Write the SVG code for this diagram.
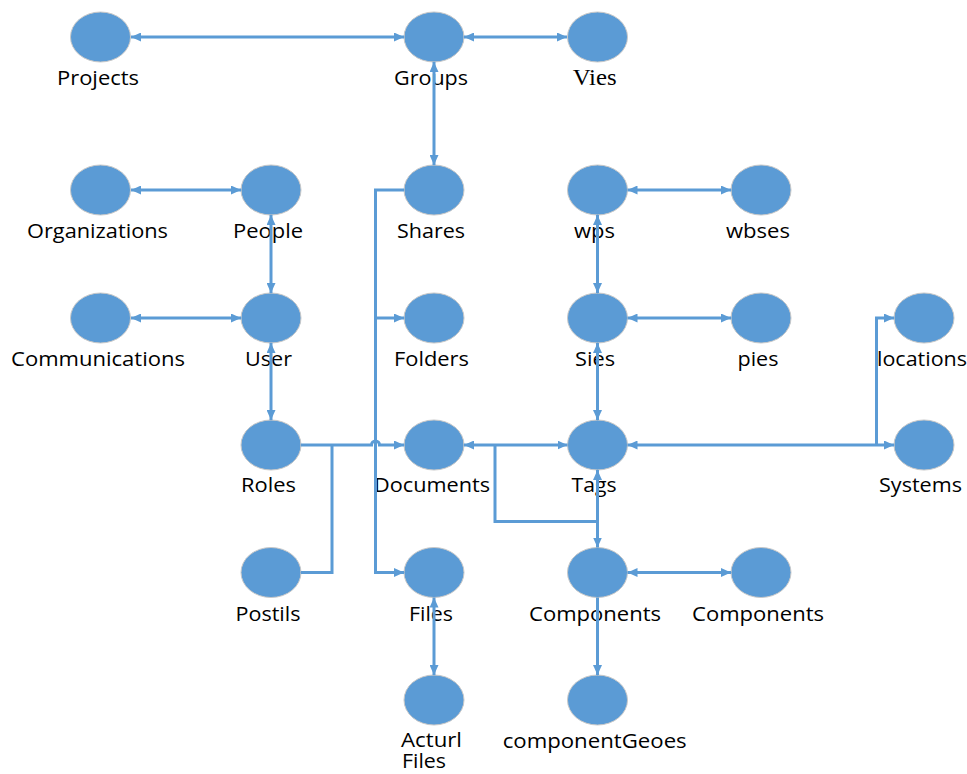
<svg xmlns="http://www.w3.org/2000/svg" width="967" height="774" viewBox="0 0 967 774">
<style>
.n{fill:#5B9BD5;stroke:#C8C8C8;stroke-width:1}
.t{font-family:"Open Sans","Noto Sans","Liberation Sans",sans-serif;font-size:19.5px;fill:#000;text-anchor:middle}
.s{font-family:"Liberation Serif",serif;font-size:22.5px;fill:#000;text-anchor:middle}
.c{fill:none;stroke:#5B9BD5;stroke-width:3}
</style>
<defs>
<marker id="a" markerUnits="userSpaceOnUse" markerWidth="11" markerHeight="9" refX="10" refY="4.5" orient="auto-start-reverse"><path d="M0,0 L10,4.5 L0,9 z" fill="#5B9BD5"/></marker>
</defs>
<rect width="967" height="774" fill="#fff"/>
<g id="nodes">
<g id="projects"><ellipse class="n" cx="100.5" cy="37" rx="30" ry="25"/><text class="t" x="98" y="85" textLength="82" lengthAdjust="spacingAndGlyphs">Projects</text></g>
<g id="groups"><ellipse class="n" cx="434" cy="37" rx="30" ry="25"/><text class="t" x="431" y="85" textLength="74" lengthAdjust="spacingAndGlyphs">Groups</text></g>
<g id="vies"><ellipse class="n" cx="597.5" cy="37" rx="30" ry="25"/><text class="s" x="594.7" y="85" textLength="44" lengthAdjust="spacingAndGlyphs">Vies</text></g>
<g id="organizations"><ellipse class="n" cx="100.5" cy="190" rx="30" ry="25"/><text class="t" x="97.5" y="238" textLength="141" lengthAdjust="spacingAndGlyphs">Organizations</text></g>
<g id="people"><ellipse class="n" cx="271" cy="190" rx="30" ry="25"/><text class="t" x="268" y="238" textLength="70" lengthAdjust="spacingAndGlyphs">People</text></g>
<g id="shares"><ellipse class="n" cx="434" cy="190" rx="30" ry="25"/><text class="t" x="431" y="238" textLength="68" lengthAdjust="spacingAndGlyphs">Shares</text></g>
<g id="wps"><ellipse class="n" cx="597.5" cy="190" rx="30" ry="25"/><text class="t" x="594.5" y="238" textLength="41" lengthAdjust="spacingAndGlyphs">wps</text></g>
<g id="wbses"><ellipse class="n" cx="761" cy="190" rx="30" ry="25"/><text class="t" x="758" y="238" textLength="64" lengthAdjust="spacingAndGlyphs">wbses</text></g>
<g id="communications"><ellipse class="n" cx="100.5" cy="318" rx="30" ry="25"/><text class="t" x="98" y="366" textLength="174" lengthAdjust="spacingAndGlyphs">Communications</text></g>
<g id="user"><ellipse class="n" cx="271" cy="318" rx="30" ry="25"/><text class="t" x="268.5" y="366" textLength="47" lengthAdjust="spacingAndGlyphs">User</text></g>
<g id="folders"><ellipse class="n" cx="434" cy="318" rx="30" ry="25"/><text class="t" x="431.5" y="366" textLength="75" lengthAdjust="spacingAndGlyphs">Folders</text></g>
<g id="sies"><ellipse class="n" cx="597.5" cy="318" rx="30" ry="25"/><text class="t" x="595" y="366" textLength="40" lengthAdjust="spacingAndGlyphs">Sies</text></g>
<g id="pies"><ellipse class="n" cx="761" cy="318" rx="30" ry="25"/><text class="t" x="758" y="366" textLength="41" lengthAdjust="spacingAndGlyphs">pies</text></g>
<g id="locations"><ellipse class="n" cx="924" cy="318" rx="30" ry="25"/><text class="t" x="922" y="366" textLength="90" lengthAdjust="spacingAndGlyphs">locations</text></g>
<g id="roles"><ellipse class="n" cx="271" cy="445" rx="30" ry="25"/><text class="t" x="268.5" y="492" textLength="55" lengthAdjust="spacingAndGlyphs">Roles</text></g>
<g id="documents"><ellipse class="n" cx="434" cy="445" rx="30" ry="25"/><text class="t" x="432" y="492" textLength="116" lengthAdjust="spacingAndGlyphs">Documents</text></g>
<g id="tags"><ellipse class="n" cx="597.5" cy="445" rx="30" ry="25"/><text class="t" x="594" y="492" textLength="45" lengthAdjust="spacingAndGlyphs">Tags</text></g>
<g id="systems"><ellipse class="n" cx="924" cy="445" rx="30" ry="25"/><text class="t" x="920.5" y="492" textLength="83" lengthAdjust="spacingAndGlyphs">Systems</text></g>
<g id="postils"><ellipse class="n" cx="271" cy="572.5" rx="30" ry="25"/><text class="t" x="268" y="620.5" textLength="65" lengthAdjust="spacingAndGlyphs">Postils</text></g>
<g id="files"><ellipse class="n" cx="434" cy="572.5" rx="30" ry="25"/><text class="t" x="431" y="620.5" textLength="44" lengthAdjust="spacingAndGlyphs">Files</text></g>
<g id="components1"><ellipse class="n" cx="597.5" cy="572.5" rx="30" ry="25"/><text class="t" x="595" y="620.5" textLength="132" lengthAdjust="spacingAndGlyphs">Components</text></g>
<g id="components2"><ellipse class="n" cx="761" cy="572.5" rx="30" ry="25"/><text class="t" x="758" y="620.5" textLength="132" lengthAdjust="spacingAndGlyphs">Components</text></g>
<g id="acturlfiles"><ellipse class="n" cx="434" cy="700" rx="30" ry="25"/><text class="t" style="text-anchor:start"><tspan x="401" y="747" textLength="61" lengthAdjust="spacingAndGlyphs">Acturl</tspan><tspan x="402" y="768" textLength="44" lengthAdjust="spacingAndGlyphs">Files</tspan></text></g>
<g id="componentgeoes"><ellipse class="n" cx="597.5" cy="700" rx="30" ry="25"/><text class="t" x="594.7" y="748" textLength="184" lengthAdjust="spacingAndGlyphs">componentGeoes</text></g>
</g>
<g id="connectors">
<path class="c" d="M131,37 H404" marker-start="url(#a)" marker-end="url(#a)"/>
<path class="c" d="M464,37 H567" marker-start="url(#a)" marker-end="url(#a)"/>
<path class="c" d="M434,62 V165" marker-start="url(#a)" marker-end="url(#a)"/>
<path class="c" d="M131,190 H241" marker-start="url(#a)" marker-end="url(#a)"/>
<path class="c" d="M271,215 V293" marker-start="url(#a)" marker-end="url(#a)"/>
<path class="c" d="M131,318 H241" marker-start="url(#a)" marker-end="url(#a)"/>
<path class="c" d="M271,343 V420" marker-start="url(#a)" marker-end="url(#a)"/>
<path class="c" d="M404,190 H375.5 V572.5 H404" marker-end="url(#a)"/>
<path class="c" d="M375.5,318 H404" marker-end="url(#a)"/>
<path class="c" d="M301,445 H371.5 a4,4 0 0 1 8,0 H404" marker-end="url(#a)"/>
<path class="c" d="M301,572.5 H332 V445"/>
<path class="c" d="M464,445 H567.5" marker-start="url(#a)" marker-end="url(#a)"/>
<path class="c" d="M495,445 V521.5 H597.5"/>
<path class="c" d="M597.5,470 V547.5" marker-start="url(#a)" marker-end="url(#a)"/>
<path class="c" d="M597.5,215 V293" marker-start="url(#a)" marker-end="url(#a)"/>
<path class="c" d="M627.5,190 H731" marker-start="url(#a)" marker-end="url(#a)"/>
<path class="c" d="M627.5,318 H731" marker-start="url(#a)" marker-end="url(#a)"/>
<path class="c" d="M597.5,343 V420" marker-start="url(#a)" marker-end="url(#a)"/>
<path class="c" d="M627.5,445 H894" marker-start="url(#a)" marker-end="url(#a)"/>
<path class="c" d="M876.5,445 V318 H894" marker-end="url(#a)"/>
<path class="c" d="M627.5,572.5 H731" marker-start="url(#a)" marker-end="url(#a)"/>
<path class="c" d="M434,597.5 V675" marker-start="url(#a)" marker-end="url(#a)"/>
<path class="c" d="M597.5,597.5 V675" marker-end="url(#a)"/>
</g>
</svg>
